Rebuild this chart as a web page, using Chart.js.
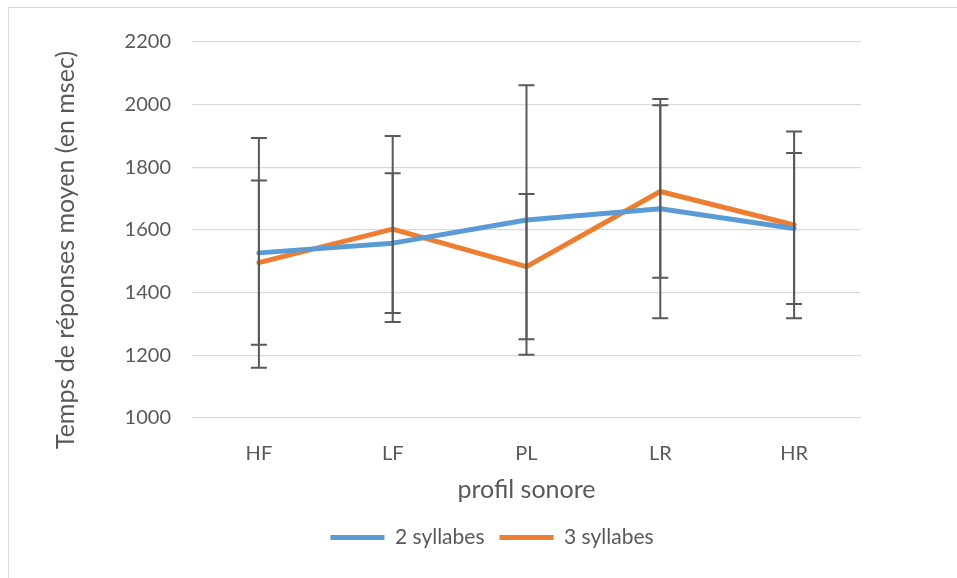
<!DOCTYPE html>
<html>
<head>
<meta charset="utf-8">
<script src="https://cdn.jsdelivr.net/npm/chart.js@4/dist/chart.umd.min.js"></script>
<style>
  html, body { margin: 0; padding: 0; background: #fff; overflow: hidden; }
  #wrap { position: relative; width: 957px; height: 578px; }
  #frame { position: absolute; left: 8px; top: 7px; width: 980px; height: 600px; border-left: 1px solid #D9D9D9; border-top: 1px solid #D9D9D9; }
  #c { position: absolute; left: 0; top: 0; }
</style>
</head>
<body>
<div id="wrap">
  <div id="frame"></div>
  <canvas id="c" width="957" height="578"></canvas>
</div>
<script>
const categories = ['HF', 'LF', 'PL', 'LR', 'HR'];
const seriesNames = ['2 syllabes', '3 syllabes'];
const values2 = [1527, 1558, 1632, 1668, 1605];
const values3 = [1496, 1603, 1483, 1723, 1616];
const errors2 = [367, 223, 430, 350, 241];
const errors3 = [262, 297, 232, 275, 298];
const yMin = 1000, yMax = 2200, yStep = 200;
const yTitle = 'Temps de réponses moyen (en msec)';
const xTitle = 'profil sonore';

const TEXT = '#595959';
const FONT = 'Lato, "Open Sans", sans-serif';

const errorBars = {
  id: 'errorBars',
  afterDatasetsDraw(chart) {
    const ctx = chart.ctx;
    const ys = chart.scales.y;
    ctx.save();
    ctx.strokeStyle = '#595959';
    ctx.lineWidth = 2;
    chart.data.datasets.forEach((ds, i) => {
      const meta = chart.getDatasetMeta(i);
      meta.data.forEach((pt, j) => {
        const v = ds.data[j], e = ds.errors[j];
        const x = pt.x;
        const yt = ys.getPixelForValue(v + e);
        const yb = ys.getPixelForValue(v - e);
        ctx.beginPath();
        ctx.moveTo(x, yt); ctx.lineTo(x, yb);
        ctx.moveTo(x - 8, yt); ctx.lineTo(x + 8, yt);
        ctx.moveTo(x - 8, yb); ctx.lineTo(x + 8, yb);
        ctx.stroke();
      });
    });
    ctx.restore();
  }
};

const yTitlePlugin = {
  id: 'yTitlePlugin',
  afterDraw(chart) {
    const ctx = chart.ctx;
    ctx.save();
    ctx.translate(66, 250);
    ctx.rotate(-Math.PI / 2);
    ctx.font = '25px ' + FONT;
    ctx.fillStyle = TEXT;
    ctx.textAlign = 'center';
    ctx.textBaseline = 'middle';
    ctx.fillText(yTitle, 0, 0);
    ctx.restore();
  }
};

const chart = new Chart(document.getElementById('c'), {
  type: 'line',
  data: {
    labels: categories,
    datasets: [
      { label: seriesNames[0], data: values2, errors: errors2, borderColor: '#5B9BD5', backgroundColor: '#5B9BD5', borderWidth: 5, pointRadius: 0, tension: 0, borderJoinStyle: 'round', borderCapStyle: 'round' },
      { label: seriesNames[1], data: values3, errors: errors3, borderColor: '#ED7D31', backgroundColor: '#ED7D31', borderWidth: 5, pointRadius: 0, tension: 0, borderJoinStyle: 'round', borderCapStyle: 'round' }
    ]
  },
  options: {
    responsive: false,
    animation: false,
    layout: { padding: { left: 123, right: 96, top: 42, bottom: 20 } },
    plugins: {
      tooltip: { enabled: false },
      legend: {
        position: 'bottom',
        labels: {
          color: TEXT,
          font: { family: FONT, size: 21 },
          boxWidth: 54,
          boxHeight: 5,
          padding: 15,
          useBorderRadius: true,
          borderRadius: 2.5,
          generateLabels(chart) {
            return chart.data.datasets.map((ds, i) => ({
              text: ds.label, fillStyle: ds.borderColor, strokeStyle: ds.borderColor,
              lineWidth: 0, fontColor: TEXT, datasetIndex: i, hidden: false
            }));
          }
        }
      }
    },
    scales: {
      x: {
        offset: true,
        grid: { display: false },
        border: { display: false },
        ticks: { color: TEXT, font: { family: FONT, size: 20 }, padding: 16 },
        title: { display: true, text: xTitle, color: TEXT, font: { family: FONT, size: 25 }, padding: { top: 4, bottom: 7 } },
        afterFit(s) { s.height = 94; }
      },
      y: {
        min: yMin, max: yMax,
        ticks: { stepSize: yStep, color: TEXT, font: { family: FONT, size: 20 }, padding: 21, callback: (v) => String(v) },
        grid: { color: '#D9D9D9', lineWidth: 1.3, drawTicks: false },
        border: { display: false },
        afterFit(s) { s.width = 69; }
      }
    }
  },
  plugins: [errorBars, yTitlePlugin]
});
</script>
</body>
</html>
